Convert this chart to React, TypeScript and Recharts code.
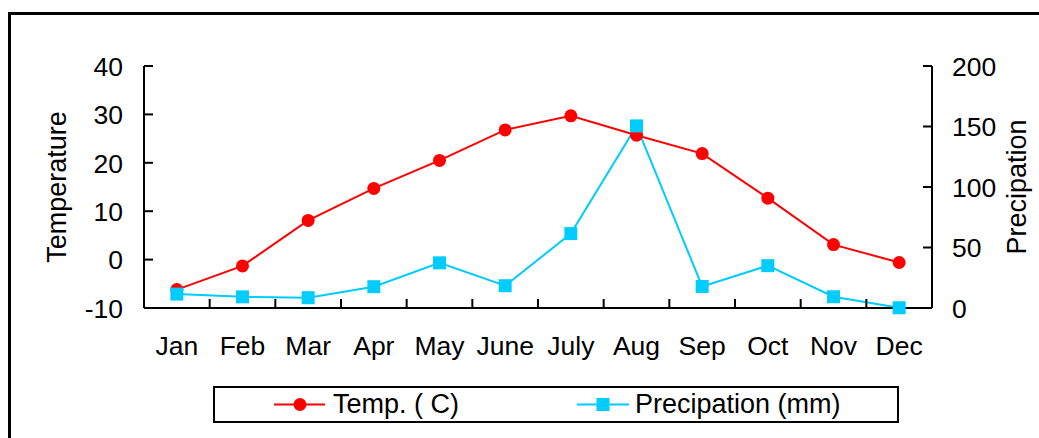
import React from 'react';
import { LineChart, Line, XAxis, YAxis, Legend } from 'recharts';

const months = ['Jan', 'Feb', 'Mar', 'Apr', 'May', 'June', 'July', 'Aug', 'Sep', 'Oct', 'Nov', 'Dec'];
const temperature = [-6.2, -1.3, 8.1, 14.7, 20.5, 26.8, 29.7, 25.7, 21.9, 12.7, 3.1, -0.6];
const precipitation = [11.5, 9.2, 8.5, 17.6, 37.3, 18.4, 61.5, 150.5, 17.8, 35.0, 9.3, 0.2];
const tempTicks = [-10, 0, 10, 20, 30, 40];
const precipTicks = [0, 50, 100, 150, 200];
const seriesNames = ['Temp. ( C)', 'Precipation (mm)'];
const axisTitles = ['Temperature', 'Precipation'];

const data = months.map((m, i) => ({ month: m, temp: temperature[i], precip: precipitation[i] }));

const FONT = '"Liberation Sans", Arial, Helvetica, sans-serif';
const RED = '#FF0000';
const CYAN = '#00CCFF';
const FS = 26.5;
const FS_TITLE = 27;

const XTick = (props: any) => {
  const { x, y, payload, index, visibleTicksCount } = props;
  const half = payload && typeof payload.offset === 'number' && payload.offset > 0 ? payload.offset : 788 / 24;
  return (
    <g>
      <line x1={x - half} x2={x - half} y1={y} y2={y - 9} stroke="#000" strokeWidth={2} />
      {index === visibleTicksCount - 1 && (
        <line x1={x + half} x2={x + half} y1={y} y2={y - 9} stroke="#000" strokeWidth={2} />
      )}
      <text x={x} y={y + 47} textAnchor="middle" fontSize={FS} fontFamily={FONT} fill="#000">
        {payload.value}
      </text>
    </g>
  );
};

const LeftTick = (props: any) => {
  const { x, y, payload } = props;
  return (
    <g>
      <line x1={x} x2={x + 9} y1={y} y2={y} stroke="#000" strokeWidth={2} />
      <text x={x - 21} y={y + 9.8} textAnchor="end" fontSize={FS} fontFamily={FONT} fill="#000">
        {payload.value}
      </text>
    </g>
  );
};

const RightTick = (props: any) => {
  const { x, y, payload } = props;
  return (
    <g>
      <line x1={x} x2={x - 9} y1={y} y2={y} stroke="#000" strokeWidth={2} />
      <text x={x + 20} y={y + 9.8} textAnchor="start" fontSize={FS} fontFamily={FONT} fill="#000">
        {payload.value}
      </text>
    </g>
  );
};

const makeAxisTitle = (title: string, side: 'left' | 'right') => (props: any) => {
  const vb = props.viewBox || {};
  const cx = side === 'left' ? vb.x + 66 : vb.x + 94;
  const cy = vb.y + vb.height / 2;
  return (
    <text
      x={cx}
      y={cy}
      transform={`rotate(-90, ${cx}, ${cy})`}
      textAnchor="middle"
      fontSize={FS_TITLE}
      fontFamily={FONT}
      fill="#000"
    >
      {title}
    </text>
  );
};

const SquareDot = (props: any) => {
  const { cx, cy, index } = props;
  if (cx == null || cy == null) return <g key={`sq-${index}`} />;
  return <rect key={`sq-${index}`} x={cx - 6.5} y={cy - 6.5} width={13} height={13} fill={CYAN} />;
};

const LegendBox = () => (
  <svg width={686} height={37} style={{ display: 'block' }}>
    <rect x={1} y={1} width={684} height={35} fill="#fff" stroke="#000" strokeWidth={2} />
    <line x1={61} x2={112} y1={18.5} y2={18.5} stroke={RED} strokeWidth={2} />
    <circle cx={87} cy={18.5} r={6.5} fill={RED} />
    <text x={120} y={26.8} fontSize={FS_TITLE} fontFamily={FONT} fill="#000">{seriesNames[0]}</text>
    <line x1={364} x2={416} y1={18.5} y2={18.5} stroke={CYAN} strokeWidth={2} />
    <rect x={383.5} y={12} width={13} height={13} fill={CYAN} />
    <text x={422} y={26.8} fontSize={FS_TITLE} fontFamily={FONT} fill="#000">{seriesNames[1]}</text>
  </svg>
);

export default function App() {
  return (
    <div
      style={{
        position: 'absolute',
        left: 0,
        top: 0,
        width: 1039,
        height: 438,
        overflow: 'hidden',
        background: '#fff',
        fontFamily: FONT,
      }}
    >
      <div
        style={{
          position: 'absolute',
          left: 8,
          top: 12,
          width: 1100,
          height: 500,
          border: '3px solid #000',
        }}
      />
      <div style={{ position: 'absolute', left: 0, top: 0 }}>
        <LineChart width={1039} height={438} data={data} margin={{ top: 66, right: 0, bottom: 70, left: 0 }}>
          <XAxis
            dataKey="month"
            scale="band"
            interval={0}
            height={60}
            tickSize={0}
            tickMargin={0}
            tickLine={false}
            axisLine={{ stroke: '#000', strokeWidth: 2 }}
            tick={<XTick />}
          />
          <YAxis
            yAxisId="left"
            orientation="left"
            width={144}
            domain={[-10, 40]}
            ticks={tempTicks}
            interval={0}
            tickSize={0}
            tickMargin={0}
            tickLine={false}
            axisLine={{ stroke: '#000', strokeWidth: 2 }}
            tick={<LeftTick />}
            label={makeAxisTitle(axisTitles[0], 'left')}
          />
          <YAxis
            yAxisId="right"
            orientation="right"
            width={107}
            domain={[0, 200]}
            ticks={precipTicks}
            interval={0}
            tickSize={0}
            tickMargin={0}
            tickLine={false}
            axisLine={{ stroke: '#000', strokeWidth: 2 }}
            tick={<RightTick />}
            label={makeAxisTitle(axisTitles[1], 'right')}
          />
          <Legend
            layout="horizontal"
            verticalAlign="middle"
            align="center"
            wrapperStyle={{ left: 213, top: 386, width: 686, height: 37 }}
            content={() => <LegendBox />}
          />
          <Line
            yAxisId="left"
            dataKey="temp"
            name={seriesNames[0]}
            stroke={RED}
            strokeWidth={2}
            dot={{ r: 6.5, fill: RED, stroke: RED, strokeWidth: 0 }}
            activeDot={false}
            isAnimationActive={false}
          />
          <Line
            yAxisId="right"
            dataKey="precip"
            name={seriesNames[1]}
            stroke={CYAN}
            strokeWidth={2}
            dot={SquareDot}
            activeDot={false}
            isAnimationActive={false}
          />
        </LineChart>
      </div>
    </div>
  );
}
